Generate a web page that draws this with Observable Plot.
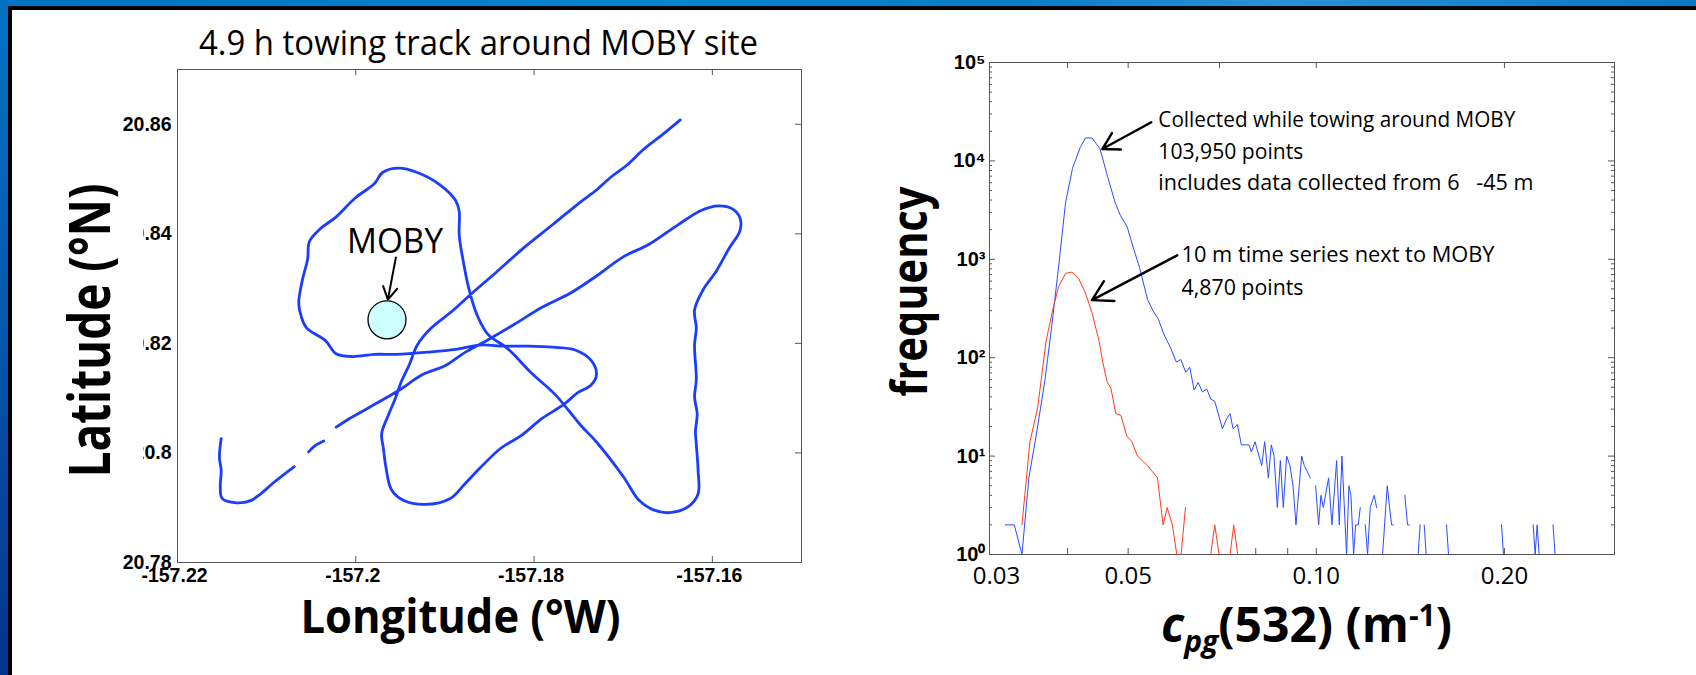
<!DOCTYPE html>
<html><head><meta charset="utf-8">
<script src="https://cdn.jsdelivr.net/npm/d3@7"></script>
<script src="https://cdn.jsdelivr.net/npm/@observablehq/plot@0.6"></script>
<style>
html,body{margin:0;padding:0;background:#fff;overflow:hidden}
#stage{position:relative;width:1696px;height:675px;background:#fff;overflow:hidden}
#top{position:absolute;left:0;top:0;width:1696px;height:6px;background:linear-gradient(90deg,#0272c4,#0784d2 40%,#0a7cc8 60%,#2a90d8 75%,#0a78c4)}
#left{position:absolute;left:0;top:0;width:8px;height:675px;background:linear-gradient(180deg,#0272c4,#0456ac 50%,#04348a)}
#bt{position:absolute;left:8px;top:6px;width:1688px;height:4px;background:#000}
#bl{position:absolute;left:8px;top:6px;width:4px;height:669px;background:#000}
#patch{position:absolute;left:118px;top:180px;width:25px;height:290px;background:#fff}
svg{position:absolute}
</style></head><body>
<div id="stage"><div id="top"></div><div id="left"></div><div id="bt"></div><div id="bl"></div></div>
<script>
// Tow track (null = gap in the record)
const lon=[-157.1636,-157.1656,-157.1678,-157.1694,-157.1715,-157.1730,-157.1748,-157.1779,-157.1809,-157.1843,-157.1870,-157.1891,-157.1916,-157.1931,-157.1940,-157.1949,-157.1956,-157.1964,-157.1971,-157.1969,-157.1966,-157.1960,-157.1946,-157.1922,-157.1894,-157.1879,-157.1861,-157.1837,-157.1815,-157.1791,-157.1767,-157.1751,-157.1736,-157.1730,-157.1736,-157.1754,-157.1779,-157.1806,-157.1833,-157.1861,-157.1888,-157.1919,-157.1955,-157.1979,-157.2004,-157.2022,-157.2034,-157.2055,-157.2061,-157.2064,-157.2060,-157.2054,-157.2052,-157.2040,-157.2022,-157.2001,-157.1979,-157.1970,-157.1952,-157.1931,-157.1906,-157.1888,-157.1884,-157.1884,-157.1879,-157.1873,-157.1864,-157.1852,-157.1830,-157.1803,-157.1776,-157.1748,-157.1730,-157.1700,-157.1682,-157.1666,-157.1648,-157.1627,-157.1616,-157.1616,-157.1618,-157.1619,-157.1617,-157.1620,-157.1618,-157.1620,-157.1618,-157.1620,-157.1610,-157.1596,-157.1581,-157.1569,-157.1569,-157.1578,-157.1593,-157.1612,-157.1639,-157.1672,-157.1700,-157.1730,-157.1760,-157.1791,-157.1821,-157.1849,-157.1876,-157.1900,-157.1925,-157.1952,-157.1985,-157.2007,-157.2022,null,-157.2036,-157.2046,-157.2053,null,-157.2069,-157.2092,-157.2107,-157.2118,-157.2134,-157.2150,-157.2152,-157.2151,-157.2153,-157.2151];
const lat=[20.8608,20.8581,20.8553,20.8528,20.8502,20.8480,20.8458,20.8417,20.8378,20.8329,20.8291,20.8260,20.8227,20.8197,20.8161,20.8130,20.8098,20.8067,20.8035,20.8008,20.7972,20.7933,20.7913,20.7906,20.7917,20.7941,20.7972,20.8009,20.8031,20.8063,20.8088,20.8110,20.8124,20.8143,20.8169,20.8188,20.8193,20.8195,20.8195,20.8197,20.8189,20.8184,20.8180,20.8180,20.8176,20.8181,20.8205,20.8228,20.8248,20.8273,20.8315,20.8354,20.8386,20.8409,20.8431,20.8465,20.8492,20.8512,20.8520,20.8512,20.8490,20.8461,20.8441,20.8398,20.8346,20.8299,20.8252,20.8217,20.8191,20.8146,20.8106,20.8051,20.8020,20.7957,20.7913,20.7896,20.7891,20.7902,20.7925,20.7968,20.8016,20.8039,20.8071,20.8102,20.8134,20.8197,20.8228,20.8261,20.8299,20.8331,20.8374,20.8406,20.8429,20.8446,20.8451,20.8443,20.8416,20.8380,20.8358,20.8323,20.8291,20.8266,20.8236,20.8209,20.8185,20.8159,20.8143,20.8114,20.8083,20.8063,20.8047,null,20.8022,20.8013,20.8002,null,20.7975,20.7946,20.7925,20.7913,20.7909,20.7917,20.7937,20.7968,20.7992,20.8026];
const lonTicks=[-157.22,-157.2,-157.18,-157.16];
const latTicks=[20.78,20.8,20.82,20.84,20.86];
const moby={lon:-157.1965,lat:20.8243};

// Histograms
const towC=[0.0318,0.03287,0.03381,0.03468,0.03573,0.03681,0.0377,0.03869,0.0397,0.04073,0.04189,0.04273,0.04376,0.04509,0.04627,0.04767,0.04862,0.0498,0.0511,0.05213,0.05371,0.05479,0.05589,0.05701,0.05839,0.05973,0.0607,0.06182,0.06274,0.06375,0.06469,0.06573,0.06679,0.06778,0.06879,0.07075,0.07189,0.07278,0.07359,0.07477,0.07588,0.07805,0.07872,0.07979,0.08178,0.08268,0.08381,0.08473,0.08557,0.08663,0.08759,0.08856,0.08965,0.09076,0.09178,0.09279,0.09475,0.09568,0.09782,null,0.09975,0.10086,0.10173,0.10261,0.10464,0.10593,0.10777,0.10884,0.10991,0.1118,0.11276,0.1136,0.11473,0.11559,0.11671,0.11758,null,0.11978,0.12079,0.12198,0.1238,0.12487,null,0.12765,0.12987,0.13196,0.13277,null,0.13858,0.13995,0.14084,null,0.14552,0.1466,null,0.1488,0.14991,null,0.16157,0.16276,null,0.19787,0.1993,null,0.2223,0.22395,0.2256,0.22726,null,0.23923,0.24098];
const towN=[2,2,1,6,18,60,200,830,3750,8400,13600,17100,17100,13200,7200,3750,2770,2150,1240,830,390,300,247,174,128,90,96,71,80,47,56,45,48,38,36,19,24,27,19,21,13,13,11,14,8,14,6,13,10,3,9,3,10,8,5,2,10,8,6,null,5,2,4,3,6,2,9,2,10,1,5,4,1,2,2,3,null,2,1,3,4,3,null,1,5,2,2,null,4,2,2,null,1,2,null,2,1,null,2,1,null,2,1,null,2,1,2,1,null,2,1];
const siteC=[0.03381,0.03482,0.03582,0.03696,0.03792,0.03869,0.0397,0.04065,0.04164,0.04273,0.04376,0.04491,0.04553,0.04627,0.04692,0.04778,0.04867,0.04975,0.05068,0.05175,0.05369,0.0557,0.05687,0.05772,0.05886,0.05981,null,0.06077,0.06175,null,0.06778,0.06879,0.06989,null,0.07278,0.07377,0.07486];
const siteN=[2,14,31,149,318,526,719,741,643,452,287,149,90,57,49,27,26,16,14,10,8,6,2,3,2,1,null,1,3,null,1,2,1,null,1,2,1];
const cLabels=[0.05,0.10,0.20];
const freqTicks=[1,10,100,1000,10000,100000];
const notes=[
 {c:0.05588,n:25900,t:"Collected while towing around MOBY"},
 {c:0.05588,n:12300,t:"103,950 points"},
 {c:0.05588,n:5890,t:"includes data collected from 6   -45 m"},
 {c:0.06086,n:1097,t:"10 m time series next to MOBY"},
 {c:0.06086,n:510,t:"4,870 points"}];
const arrows=[
 {x1:0.05446,y1:24700,x2:0.04545,y2:13200},
 {x1:0.0599,y1:1097,x2:0.04376,y2:385}];

const hand='"Comic Sans MS","Open Sans",sans-serif', bold='"Liberation Sans",Arial,sans-serif';
const ink="#555", track="#1b3dff";
const fit={"4.9 h towing track around MOBY site":559,"MOBY":96,"Longitude (°W)":320,"Latitude (°N)":294,"frequency":210,
 "Collected while towing around MOBY":357,"103,950 points":145,"includes data collected from 6   -45 m":375,"10 m time series next to MOBY":313,"4,870 points":122};
function squeeze(svg){
 svg.querySelectorAll("text").forEach(t=>{const w=fit[t.textContent];
  if(w){t.setAttribute("textLength",w);t.setAttribute("lengthAdjust","spacingAndGlyphs");t.style.whiteSpace="pre";}});
}

// LEFT
const lh=675-69-113;
const rowsL=lon.map((d,i)=>({lon:d,lat:lat[i]}));
const titleOpts={frameAnchor:"top-left",textAnchor:"middle",lineAnchor:"middle",fontFamily:hand,fill:"#000",text:d=>d};
const left=Plot.plot({width:850,height:675,marginLeft:177,marginRight:49,marginTop:69,marginBottom:113,
 style:{background:"transparent",color:"#000"},
 x:{domain:[-157.22,-157.15]},y:{domain:[20.78,20.87]},
 marks:[
  Plot.frame({stroke:ink,strokeWidth:1}),
  Plot.ruleX(lonTicks,{x:d=>d,insetTop:lh-6,stroke:ink}),
  Plot.ruleX(lonTicks,{x:d=>d,insetBottom:lh-6,stroke:ink}),
  Plot.ruleY(latTicks,{y:d=>d,insetLeft:618,stroke:ink}),
  Plot.axisX({ticks:lonTicks,tickFormat:d=>String(d),tickSize:0,tickPadding:6,label:null,fontSize:19.5,fontWeight:"bold",fontFamily:bold,dx:-3}),
  Plot.axisY({ticks:latTicks,tickFormat:d=>String(d),tickSize:0,tickPadding:6,label:null,fontSize:19.5,fontWeight:"bold",fontFamily:bold}),
  Plot.line(rowsL,{x:"lon",y:"lat",stroke:track,strokeWidth:2.8,curve:"catmull-rom"}),
  Plot.dot([moby],{x:"lon",y:"lat",r:19,fill:"#ccffff",stroke:"#000",strokeWidth:1.3}),
  Plot.arrow([{x1:-157.1955,y1:20.8357,x2:-157.1964,y2:20.8280}],{x1:"x1",y1:"y1",x2:"x2",y2:"y2",stroke:"#000",strokeWidth:2,headLength:14}),
  Plot.text(["MOBY"],{x:()=>-157.1956,y:()=>20.8384,text:d=>d,fontFamily:hand,fontSize:34,fill:"#000"}),
  Plot.text(["4.9 h towing track around MOBY site"],{...titleOpts,dx:301,dy:-26,fontSize:35}),
  Plot.text(["Longitude (°W)"],{...titleOpts,dx:283,dy:549,fontSize:46,fontWeight:"bold"}),
  Plot.text(["Latitude (°N)"],{...titleOpts,dx:-86,dy:261,rotate:-90,fontSize:58,fontWeight:"bold"})
 ]});

// RIGHT
const rh=675-62-121, rw=850-143-82;
const towRows=towC.map((d,i)=>({c:d,n:towN[i]}));
const siteRows=siteC.map((d,i)=>({c:d,n:siteN[i]}));
const minor=[];freqTicks.slice(0,5).forEach(b=>[2,3,4,5,6,7,8,9].forEach(k=>minor.push(b*k)));
const botT=[0.04,0.05,0.08,0.09,0.1,0.2], topT=[0.04,0.05,0.07,0.1,0.2];
const sup={"0":"⁰","1":"¹","2":"²","3":"³","4":"⁴","5":"⁵"};
const right=Plot.plot({width:850,height:675,marginLeft:143,marginRight:82,marginTop:62,marginBottom:121,
 style:{background:"transparent",color:"#000"},
 x:{type:"log",domain:[0.03,0.3]},y:{type:"log",domain:[1,100000]},
 marks:[
  Plot.frame({stroke:ink,strokeWidth:1}),
  Plot.ruleX(botT,{x:d=>d,insetTop:rh-6,stroke:ink}),
  Plot.ruleX(topT,{x:d=>d,insetBottom:rh-6,stroke:ink}),
  Plot.ruleY(freqTicks,{y:d=>d,insetRight:rw-6,stroke:ink}),
  Plot.ruleY(freqTicks,{y:d=>d,insetLeft:rw-6,stroke:ink}),
  Plot.ruleY(minor,{y:d=>d,insetRight:rw-3,stroke:ink}),
  Plot.ruleY(minor,{y:d=>d,insetLeft:rw-3,stroke:ink}),
  Plot.axisX({ticks:[0.03],tickFormat:d=>d.toFixed(2),tickSize:0,tickPadding:12,label:null,fontSize:24,fontFamily:hand,dx:7}),
  Plot.axisX({ticks:cLabels,tickFormat:d=>d.toFixed(2),tickSize:0,tickPadding:12,label:null,fontSize:24,fontFamily:hand}),
  Plot.axisY({ticks:freqTicks,tickFormat:d=>"10"+sup[Math.round(Math.log10(d))],tickSize:0,tickPadding:4,label:null,fontSize:20,fontWeight:"bold",fontFamily:bold}),
  Plot.line(towRows,{x:"c",y:"n",stroke:"#2a4cff",strokeWidth:1}),
  Plot.line(siteRows,{x:"c",y:"n",stroke:"#ff3a1e",strokeWidth:1}),
  Plot.arrow(arrows,{x1:"x1",y1:"y1",x2:"x2",y2:"y2",stroke:"#000",strokeWidth:2.4,headLength:14}),
  Plot.text(notes,{x:"c",y:"n",text:"t",textAnchor:"start",fontFamily:hand,fontSize:21,fill:"#000"}),
  Plot.text(["frequency"],{...titleOpts,dx:-79,dy:229,rotate:-90,fontSize:50,fontWeight:"bold"}),
  Plot.text(["cpg(532) (m-1)"],{...titleOpts,dx:317,dy:564,fontSize:48,fontWeight:"bold"})
 ]});
right.style.left="846px";right.style.top="0";left.style.left="0";left.style.top="0";
squeeze(left);squeeze(right);
right.querySelectorAll("text").forEach(t=>{ if(t.textContent==="cpg(532) (m-1)"){
 t.innerHTML='<tspan font-style="italic">c</tspan><tspan font-style="italic" font-size="30" dy="10">pg</tspan><tspan dy="-10">(532) (m</tspan><tspan font-size="30" dy="-16">-1</tspan><tspan dy="16">)</tspan>';
}});
const stage=document.getElementById("stage");
stage.appendChild(left);stage.appendChild(right);
const p=document.createElement("div");p.id="patch";stage.appendChild(p);
</script></body></html>
